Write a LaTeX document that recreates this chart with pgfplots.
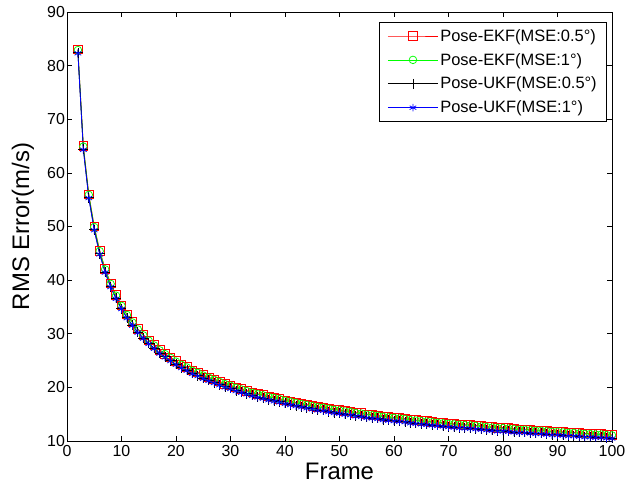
\documentclass[border=0pt]{standalone}
\usepackage{pgfplots}
\pgfplotsset{compat=1.18}
\usepackage{pgfplotstable}
\usepackage{fontspec}
\setmainfont{Liberation Sans}
\pgfplotstableread{
n e05 e1 u05 u1
2 83.0 82.9 82.4 82.3
3 65.0 64.9 64.4 64.3
4 56.0 55.9 55.4 55.3
5 50.0 49.9 49.4 49.3
6 45.5 45.4 44.9 44.8
7 42.1 42.0 41.5 41.4
8 39.4 39.3 38.8 38.7
9 37.2 37.1 36.6 36.5
10 35.3 35.2 34.7 34.6
11 33.6 33.5 33.0 32.9
12 32.2 32.1 31.6 31.5
13 30.9 30.8 30.3 30.2
14 29.8 29.7 29.2 29.1
15 28.8 28.7 28.2 28.1
16 27.9 27.8 27.3 27.2
17 27.0 26.9 26.4 26.3
18 26.3 26.2 25.7 25.6
19 25.6 25.5 25.0 24.9
20 24.9 24.8 24.3 24.2
21 24.3 24.2 23.7 23.6
22 23.8 23.7 23.2 23.1
23 23.2 23.1 22.6 22.5
24 22.8 22.7 22.2 22.1
25 22.3 22.2 21.7 21.6
26 21.9 21.8 21.3 21.2
27 21.5 21.4 20.9 20.8
28 21.1 21.0 20.5 20.4
29 20.7 20.6 20.1 20.0
30 20.4 20.3 19.8 19.7
31 20.0 19.9 19.4 19.3
32 19.7 19.6 19.1 19.0
33 19.4 19.3 18.8 18.7
34 19.1 19.0 18.5 18.4
35 18.8 18.7 18.2 18.1
36 18.6 18.5 18.0 17.9
37 18.3 18.2 17.7 17.6
38 18.1 18.0 17.5 17.4
39 17.9 17.8 17.3 17.2
40 17.6 17.5 17.0 16.9
41 17.4 17.3 16.8 16.7
42 17.2 17.1 16.6 16.5
43 17.0 16.9 16.4 16.3
44 16.8 16.7 16.2 16.1
45 16.6 16.5 16.0 15.9
46 16.4 16.3 15.8 15.7
47 16.3 16.2 15.7 15.6
48 16.1 16.0 15.5 15.4
49 15.9 15.8 15.3 15.2
50 15.8 15.7 15.2 15.1
51 15.6 15.5 15.0 14.9
52 15.5 15.4 14.9 14.8
53 15.3 15.2 14.7 14.6
54 15.2 15.1 14.6 14.5
55 15.0 14.9 14.4 14.3
56 14.9 14.8 14.3 14.2
57 14.8 14.7 14.2 14.1
58 14.6 14.5 14.0 13.9
59 14.5 14.4 13.9 13.8
60 14.4 14.3 13.8 13.7
61 14.3 14.2 13.7 13.6
62 14.2 14.1 13.6 13.5
63 14.0 13.9 13.4 13.3
64 13.9 13.8 13.3 13.2
65 13.8 13.7 13.2 13.1
66 13.7 13.6 13.1 13.0
67 13.6 13.5 13.0 12.9
68 13.5 13.4 12.9 12.8
69 13.4 13.3 12.8 12.7
70 13.3 13.2 12.7 12.6
71 13.2 13.1 12.6 12.5
72 13.1 13.0 12.5 12.4
73 13.05 12.95 12.45 12.35
74 13.0 12.9 12.4 12.3
75 12.9 12.8 12.3 12.2
76 12.8 12.7 12.2 12.1
77 12.7 12.6 12.1 12.0
78 12.6 12.5 12.0 11.9
79 12.5 12.4 11.9 11.8
80 12.5 12.4 11.9 11.8
81 12.4 12.3 11.8 11.7
82 12.3 12.2 11.7 11.6
83 12.2 12.1 11.6 11.5
84 12.2 12.1 11.6 11.5
85 12.1 12.0 11.5 11.4
86 12.0 11.9 11.4 11.3
87 12.0 11.9 11.4 11.3
88 11.9 11.8 11.3 11.2
89 11.8 11.7 11.2 11.1
90 11.8 11.7 11.2 11.1
91 11.7 11.6 11.1 11.0
92 11.6 11.5 11.0 10.9
93 11.6 11.5 11.0 10.9
94 11.5 11.4 10.9 10.8
95 11.4 11.3 10.8 10.7
96 11.4 11.3 10.8 10.7
97 11.3 11.2 10.7 10.6
98 11.3 11.2 10.7 10.6
99 11.2 11.1 10.6 10.5
100 11.15 11.05 10.55 10.45
}\datatable
\definecolor{mred}{rgb}{1,0,0}
\definecolor{mgreen}{rgb}{0,1,0}
\definecolor{mblue}{rgb}{0,0,1}
\begin{document}
\begin{tikzpicture}
\begin{axis}[
  name=main,
  at={(0,0)}, anchor=south west,
  scale only axis,
  width=545bp, height=429bp,
  xmin=0, xmax=100, ymin=10, ymax=90,
  xtick={0,10,...,100}, ytick={10,20,...,90},
  tick align=inside,
  major tick length=5bp,
  axis line style={black, line width=0.6pt},
  every tick/.style={black, line width=0.6pt},
  /pgf/number format/assume math mode=true,
  tick label style={font=\fontsize{16}{18}\selectfont},
  xticklabel style={yshift=-1bp},
  yticklabel style={xshift=1.5bp},
  xlabel={Frame}, ylabel={RMS Error(m/s)},
  label style={font=\fontsize{24}{26}\selectfont},
  xlabel style={at={(axis description cs:0.5,0)}, anchor=north, yshift=-19bp},
  ylabel style={at={(axis description cs:0,0.5)}, anchor=center, rotate=0, yshift=44bp},
  legend style={at={(1,1)}, xshift=-5bp, yshift=-10bp, anchor=north east, draw=black, line width=0.6pt,
    font=\fontsize{16.5}{19}\selectfont, row sep=6.5bp, inner xsep=8bp, inner ysep=5bp},
  legend cell align=left,
  legend image code/.code={\draw[mark repeat=2, mark phase=2] plot coordinates {(-4bp,0bp) (21bp,0bp) (46bp,0bp)};},
]
\addplot[mred, line width=0.75pt, mark=square, mark size=4.3bp] table[x=n, y=e05] {\datatable};
\addlegendentry{Pose-EKF(MSE:0.5°)}
\addplot[mgreen, line width=0.75pt, mark=o, mark size=3.8bp] table[x=n, y=e1] {\datatable};
\addlegendentry{Pose-EKF(MSE:1°)}
\addplot[black, line width=0.75pt, mark=+, mark size=5bp] table[x=n, y=u05] {\datatable};
\addlegendentry{Pose-UKF(MSE:0.5°)}
\addplot[mblue, line width=0.75pt, mark=asterisk, mark size=3.8bp] table[x=n, y=u1] {\datatable};
\addlegendentry{Pose-UKF(MSE:1°)}
\end{axis}
\pgfresetboundingbox
\path (-67bp,-52bp) rectangle (558bp,441bp);
\end{tikzpicture}
\end{document}
